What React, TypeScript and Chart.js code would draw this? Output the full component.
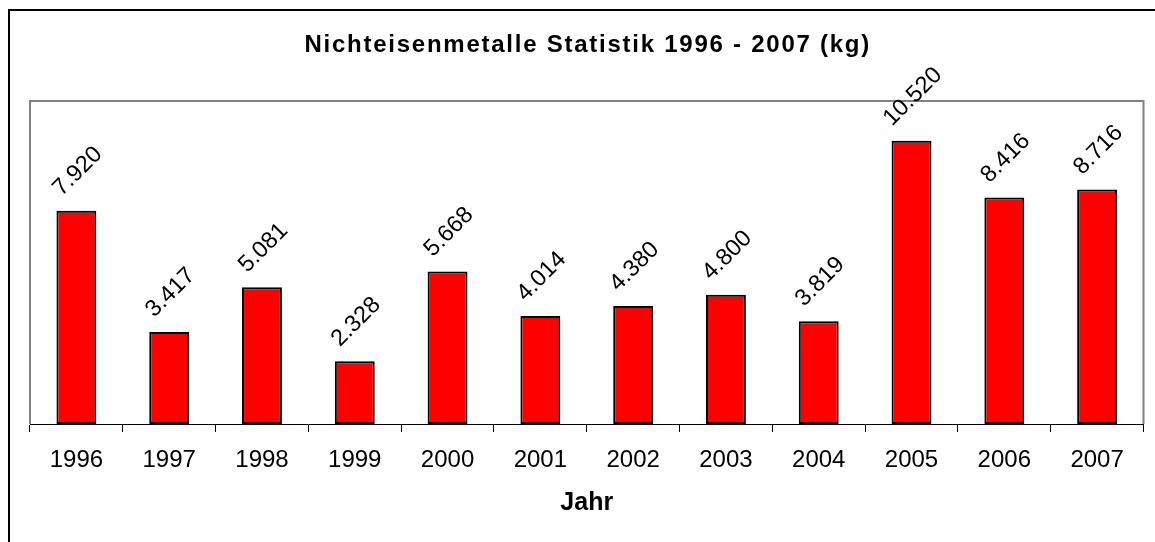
import React, { useEffect, useRef } from "react";
import { Chart, registerables } from "chart.js";

Chart.register(...registerables);

const years = ["1996", "1997", "1998", "1999", "2000", "2001", "2002", "2003", "2004", "2005", "2006", "2007"];
const amounts = [7920, 3417, 5081, 2328, 5668, 4014, 4380, 4800, 3819, 10520, 8416, 8716];
const titleText = "Nichteisenmetalle Statistik 1996 - 2007 (kg)";
const axisTitle = "Jahr";
const yMax = 12000;

const FONT = "'Liberation Sans', Arial, Helvetica, sans-serif";

function fmt(n: number): string {
  const s = Math.round(n).toString();
  return s.replace(/\B(?=(\d{3})+(?!\d))/g, ".");
}

const frame = {
  id: "frame",
  beforeDraw(chart: any) {
    const { ctx, chartArea } = chart;
    ctx.save();
    // outer border (top & left visible)
    ctx.strokeStyle = "#000000";
    ctx.lineWidth = 2;
    ctx.beginPath();
    ctx.moveTo(9, 2000);
    ctx.lineTo(9, 10);
    ctx.lineTo(3000, 10);
    ctx.stroke();
    // plot area border
    ctx.strokeStyle = "#808080";
    ctx.lineWidth = 2;
    ctx.beginPath();
    ctx.moveTo(chartArea.left, chartArea.bottom);
    ctx.lineTo(chartArea.left, chartArea.top);
    ctx.lineTo(chartArea.right, chartArea.top);
    ctx.lineTo(chartArea.right, chartArea.bottom);
    ctx.stroke();
    // title
    ctx.fillStyle = "#000000";
    ctx.font = `bold 24px ${FONT}`;
    try {
      (ctx as any).letterSpacing = "1.75px";
    } catch (e) {}
    ctx.textAlign = "center";
    ctx.textBaseline = "alphabetic";
    ctx.fillText(titleText, (chartArea.left + chartArea.right) / 2 + 1, 52.3);
    try {
      (ctx as any).letterSpacing = "0px";
    } catch (e) {}
    ctx.restore();
  },
};

const valueLabels = {
  id: "valueLabels",
  afterDatasetsDraw(chart: any) {
    const { ctx } = chart;
    const meta = chart.getDatasetMeta(0);
    const size = 23.5;
    ctx.save();
    ctx.font = `${size}px ${FONT}`;
    ctx.fillStyle = "#000000";
    ctx.textAlign = "center";
    ctx.textBaseline = "alphabetic";
    const h = 0.716 * size;
    meta.data.forEach((bar: any, i: number) => {
      const txt = fmt(amounts[i]);
      const w = ctx.measureText(txt).width;
      const box = (w + h) * Math.SQRT1_2;
      const cx = bar.x;
      const cy = bar.y - 14 - box / 2;
      ctx.save();
      ctx.translate(cx, cy);
      ctx.rotate(-Math.PI / 4);
      ctx.fillText(txt, 0, h / 2);
      ctx.restore();
    });
    ctx.restore();
  },
};

export default function App() {
  const ref = useRef<HTMLCanvasElement | null>(null);
  useEffect(() => {
    document.body.style.margin = "0";
    document.body.style.overflow = "hidden";
    if (!ref.current) return;
    const chart = new Chart(ref.current, {
      type: "bar",
      data: {
        labels: years,
        datasets: [
          {
            data: amounts,
            backgroundColor: "#FF0000",
            borderColor: "#000000",
            borderWidth: 2,
            borderSkipped: false,
            barPercentage: 0.43,
            categoryPercentage: 1,
          },
        ],
      },
      options: {
        responsive: false,
        animation: false,
        layout: { padding: { left: 30, right: 11.5, top: 101, bottom: 0 } },
        plugins: {
          legend: { display: false },
          tooltip: { enabled: false },
          title: { display: false },
        },
        scales: {
          x: {
            offset: true,
            grid: {
              display: true,
              offset: true,
              drawOnChartArea: false,
              drawTicks: true,
              tickLength: 8,
              color: "#000000",
              lineWidth: 1,
            },
            border: { display: true, color: "#000000", width: 1 },
            ticks: {
              color: "#000000",
              font: { family: FONT, size: 24 },
              padding: 14.1,
              maxRotation: 0,
              autoSkip: false,
            },
            title: {
              display: true,
              text: axisTitle,
              color: "#000000",
              font: { family: FONT, size: 25, weight: "bold" },
              padding: { top: 0, bottom: 23.6 },
            },
            afterFit: (scale: any) => {
              scale.height = 118;
            },
          },
          y: {
            display: false,
            min: 0,
            max: yMax,
          },
        },
      },
      plugins: [frame, valueLabels],
    });
    return () => chart.destroy();
  }, []);
  return (
    <div style={{ width: 1155, height: 542 }}>
      <canvas ref={ref} width={1155} height={542} style={{ display: "block" }} />
    </div>
  );
}
